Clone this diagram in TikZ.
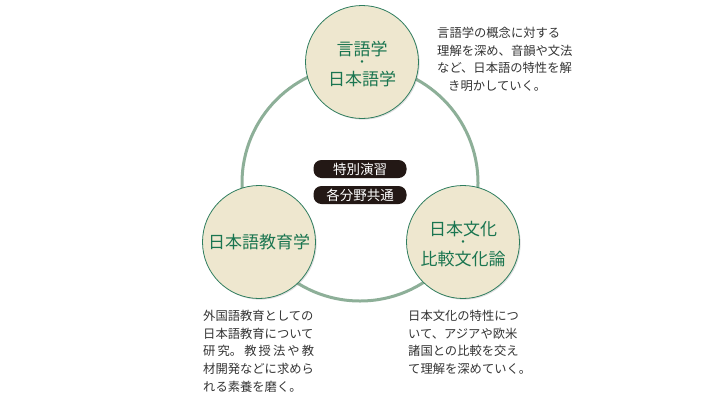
\documentclass[tikz,border=0pt]{standalone}
\usepackage{fontspec}
\setmainfont{Noto Sans CJK JP}
\usetikzlibrary{shadows}
\definecolor{ringc}{HTML}{8DAF98}
\definecolor{circfill}{HTML}{EEE7CF}
\definecolor{circline}{HTML}{2E7D5E}
\definecolor{greentext}{HTML}{1A7550}
\definecolor{bodytext}{HTML}{333333}
\definecolor{pillc}{HTML}{231815}
\begin{document}
\begin{tikzpicture}[x=1pt,y=-1pt,
  ringstyle/.style={circle, draw=ringc, line width=3pt, minimum size=236pt, inner sep=0pt},
  topic/.style={circle, draw=circline, line width=0.8pt, fill=circfill, minimum size=113pt, inner sep=0pt,
    drop shadow={opacity=0.25, shadow xshift=1.2pt, shadow yshift=-1.2pt}},
  topictext/.style={text=greentext, inner sep=0pt, font=\fontsize{17}{17}\selectfont},
  dottext/.style={text=greentext, inner sep=0pt, font=\fontsize{12}{12}\selectfont},
  pill/.style={fill=pillc, text=white, rounded corners=8pt, minimum width=93pt, minimum height=18pt, inner sep=0pt,
    font=\fontsize{13.5}{13.5}\selectfont},
  note/.style={text=bodytext, align=left, anchor=north west, inner sep=0pt, font=\fontsize{12.3}{17.7}\selectfont}]
\useasboundingbox (0,0) rectangle (725,400);
\node[ringstyle] (ring) at (360,183) {};
\node[topic] (t1) at (362,62) {};
\node[topictext] (t1a) at (362,49) {言語学};
\node[dottext] (t1d) at (362,64) {・};
\node[topictext] (t1b) at (362,79) {日本語学};
\node[topic] (t2) at (259,242) {};
\node[topictext] (t2a) at (259,242) {日本語教育学};
\node[topic] (t3) at (463,242) {};
\node[topictext] (t3a) at (463,229) {日本文化};
\node[dottext] (t3d) at (463,244) {・};
\node[topictext] (t3b) at (463,259) {比較文化論};
\node[pill] (p1) at (360,169) {特別演習};
\node[pill] (p2) at (360,195) {各分野共通};
\node[note] (n1) at (437,27) {言語学の概念に対する\\理解を深め、音韻や文法\\など、日本語の特性を解\\\hspace*{11pt}き明かしていく。};
\node[note] (n2) at (203,310) {外国語教育としての\\日本語教育について\\\hbox to 111pt{研\hfil 究。\hfil 教\hfil 授\hfil 法\hfil や\hfil 教}\\材開発などに求めら\\れる素養を磨く。};
\node[note] (n3) at (408,310) {日本文化の特性につ\\いて、アジアや欧米\\諸国との比較を交え\\て理解を深めていく。};
\end{tikzpicture}
\end{document}
